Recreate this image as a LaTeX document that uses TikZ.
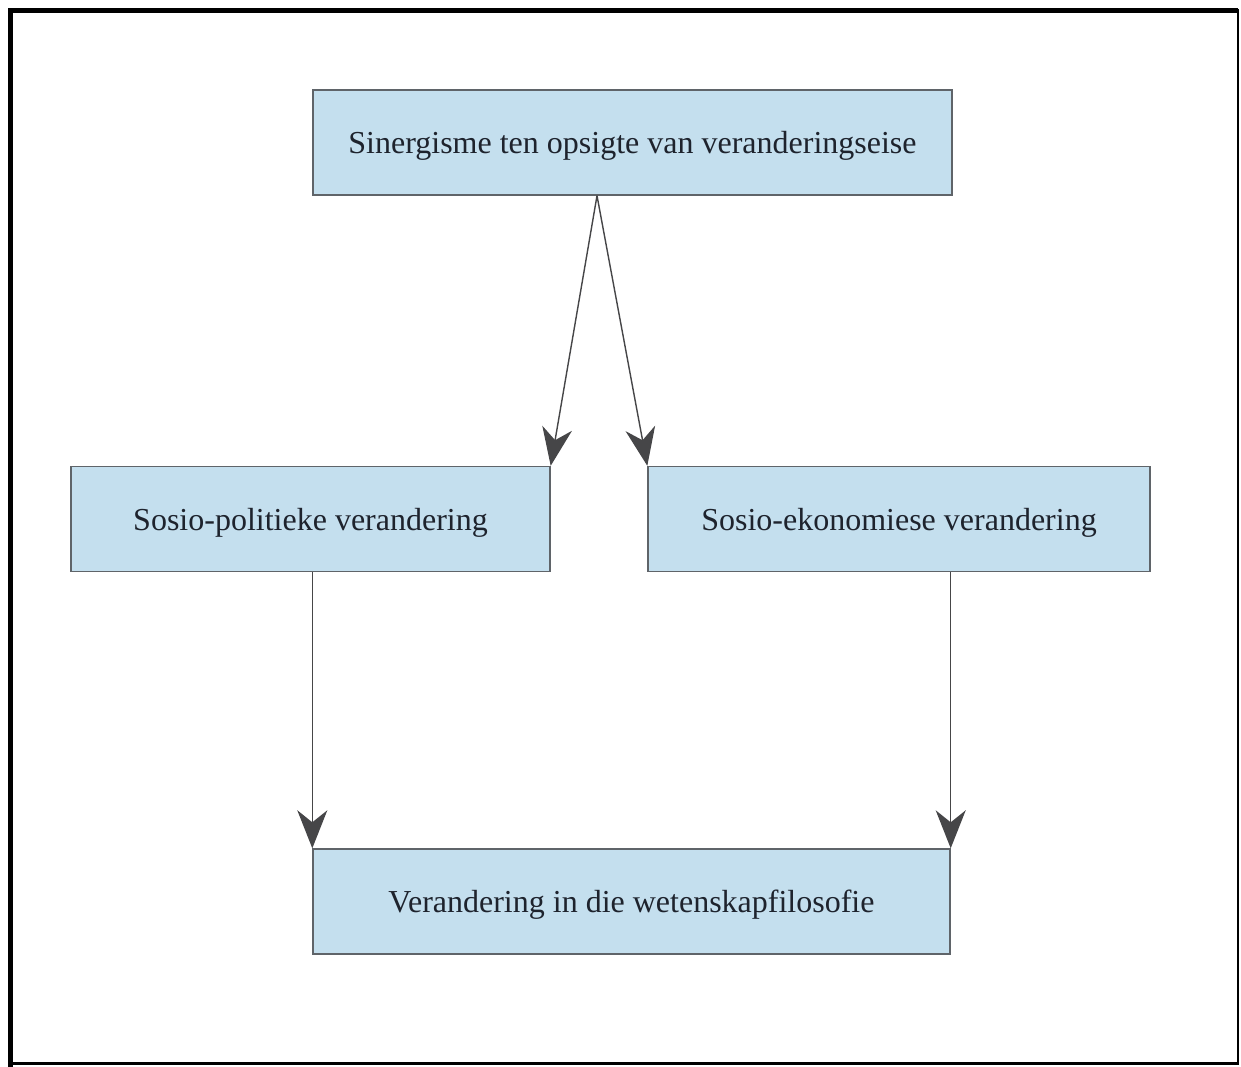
\documentclass[tikz,border=0pt]{standalone}
\usepackage{fontspec}
\setmainfont{Liberation Serif}
\usetikzlibrary{arrows.meta}
\definecolor{boxfill}{RGB}{196,223,238}
\definecolor{boxline}{RGB}{95,100,105}
\definecolor{arrowgray}{RGB}{70,70,72}
\definecolor{textdark}{RGB}{30,35,45}
\begin{document}
\begin{tikzpicture}[x=1pt,y=-1pt,
  stagebox/.style={draw=boxline, line width=1.4pt, fill=boxfill,
    minimum height=105pt, inner sep=0pt, text=textdark, text depth=0pt,
    font=\fontsize{32}{38}\selectfont},
  flow/.style={draw=arrowgray, line width=1.4pt,
    -{Stealth[length=38pt, width=30pt, inset=12pt]}}]
  % page area and frame
  \fill[white] (0,0) rectangle (1241,1067);
  \useasboundingbox (0,0) rectangle (1241,1067);
  \draw[line width=4.5pt, line cap=butt] (10.5,1067) -- (10.5,10.5) -- (1238,10.5);
  \draw[line width=2.5pt] (1238,9) -- (1238,1063.5) -- (10.5,1063.5);
  % boxes
  \node[stagebox, minimum width=639pt] (top) at (632.5,142.5)
    {Sinergisme ten opsigte van veranderingseise};
  \node[stagebox, minimum width=479pt] (left) at (310.5,519)
    {Sosio-politieke verandering};
  \node[stagebox, minimum width=502pt] (right) at (899,519)
    {Sosio-ekonomiese verandering};
  \node[stagebox, minimum width=637pt] (bottom) at (631.5,901.5)
    {Verandering in die wetenskapfilosofie};
  % connectors
  \draw[flow] ([xshift=-35.5pt]top.south) -- (left.north east);
  \draw[flow] ([xshift=-35.5pt]top.south) -- (right.north west);
  \draw[flow] (bottom.north west |- left.south) -- (bottom.north west);
  \draw[flow] (bottom.north east |- right.south) -- (bottom.north east);
\end{tikzpicture}
\end{document}
